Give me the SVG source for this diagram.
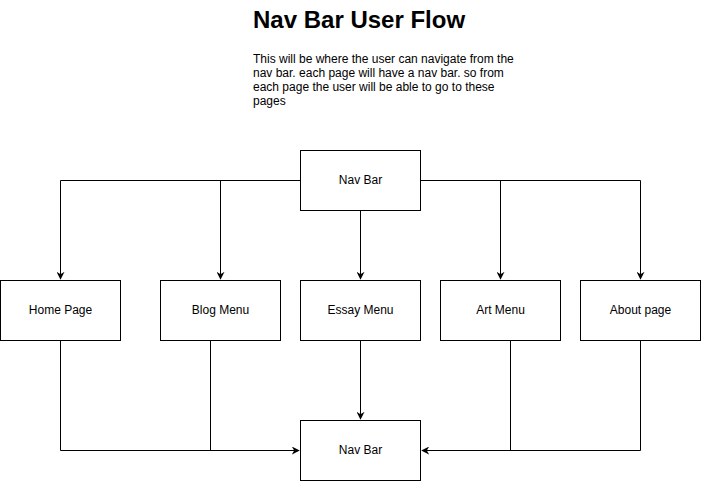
<svg xmlns="http://www.w3.org/2000/svg" width="701" height="481" viewBox="0 0 701 481">
<style>
.box{fill:#fff;stroke:#000;stroke-width:1}
.lbl{font-family:"Liberation Sans",Arial,sans-serif;font-size:12px;fill:#000;text-anchor:middle;dominant-baseline:central}
.edge{fill:none;stroke:#000;stroke-width:1}
.t{font-family:"Liberation Sans",Arial,sans-serif;fill:#000}
</style>
<defs>
<marker id="arr" viewBox="0 0 10 10" refX="9" refY="5" markerWidth="8" markerHeight="8" markerUnits="userSpaceOnUse" orient="auto">
<path d="M0,0 L10,5 L0,10 L3,5 Z" fill="#000"/>
</marker>
</defs>
<rect width="701" height="481" fill="#fff"/>
<text class="t" x="253" y="28" font-size="24" font-weight="bold">Nav Bar User Flow</text>
<text class="t" font-size="12">
<tspan x="253" y="63">This will be where the user can navigate from the</tspan>
<tspan x="253" y="77">nav bar. each page will have a nav bar. so from</tspan>
<tspan x="253" y="91">each page the user will be able to go to these</tspan>
<tspan x="253" y="105">pages</tspan>
</text>
<g id="edges">
<path class="edge" d="M300.5,180.5 H60.5 V279" marker-end="url(#arr)"/>
<path class="edge" d="M220.5,180.5 V279" marker-end="url(#arr)"/>
<path class="edge" d="M360.5,210.5 V279" marker-end="url(#arr)"/>
<path class="edge" d="M420.5,180.5 H640.5 V279" marker-end="url(#arr)"/>
<path class="edge" d="M500.5,180.5 V279" marker-end="url(#arr)"/>
<path class="edge" d="M60.5,340.5 V450.5 H299" marker-end="url(#arr)"/>
<path class="edge" d="M210.5,340.5 V450.5"/>
<path class="edge" d="M360.5,340.5 V419" marker-end="url(#arr)"/>
<path class="edge" d="M640.5,340.5 V450.5 H422" marker-end="url(#arr)"/>
<path class="edge" d="M510.5,340.5 V450.5"/>
</g>
<g id="navbar-top"><rect class="box" x="300.5" y="150.5" width="120" height="60"/><text class="lbl" x="360.5" y="179.5">Nav Bar</text></g>
<g id="home"><rect class="box" x="0.5" y="280.5" width="120" height="60"/><text class="lbl" x="60.5" y="309.5">Home Page</text></g>
<g id="blog"><rect class="box" x="160.5" y="280.5" width="120" height="60"/><text class="lbl" x="220.5" y="309.5">Blog Menu</text></g>
<g id="essay"><rect class="box" x="300.5" y="280.5" width="120" height="60"/><text class="lbl" x="360.5" y="309.5">Essay Menu</text></g>
<g id="art"><rect class="box" x="440.5" y="280.5" width="120" height="60"/><text class="lbl" x="500.5" y="309.5">Art Menu</text></g>
<g id="about"><rect class="box" x="580.5" y="280.5" width="120" height="60"/><text class="lbl" x="640.5" y="309.5">About page</text></g>
<g id="navbar-bottom"><rect class="box" x="300.5" y="420.5" width="120" height="60"/><text class="lbl" x="360.5" y="449.5">Nav Bar</text></g>
</svg>
